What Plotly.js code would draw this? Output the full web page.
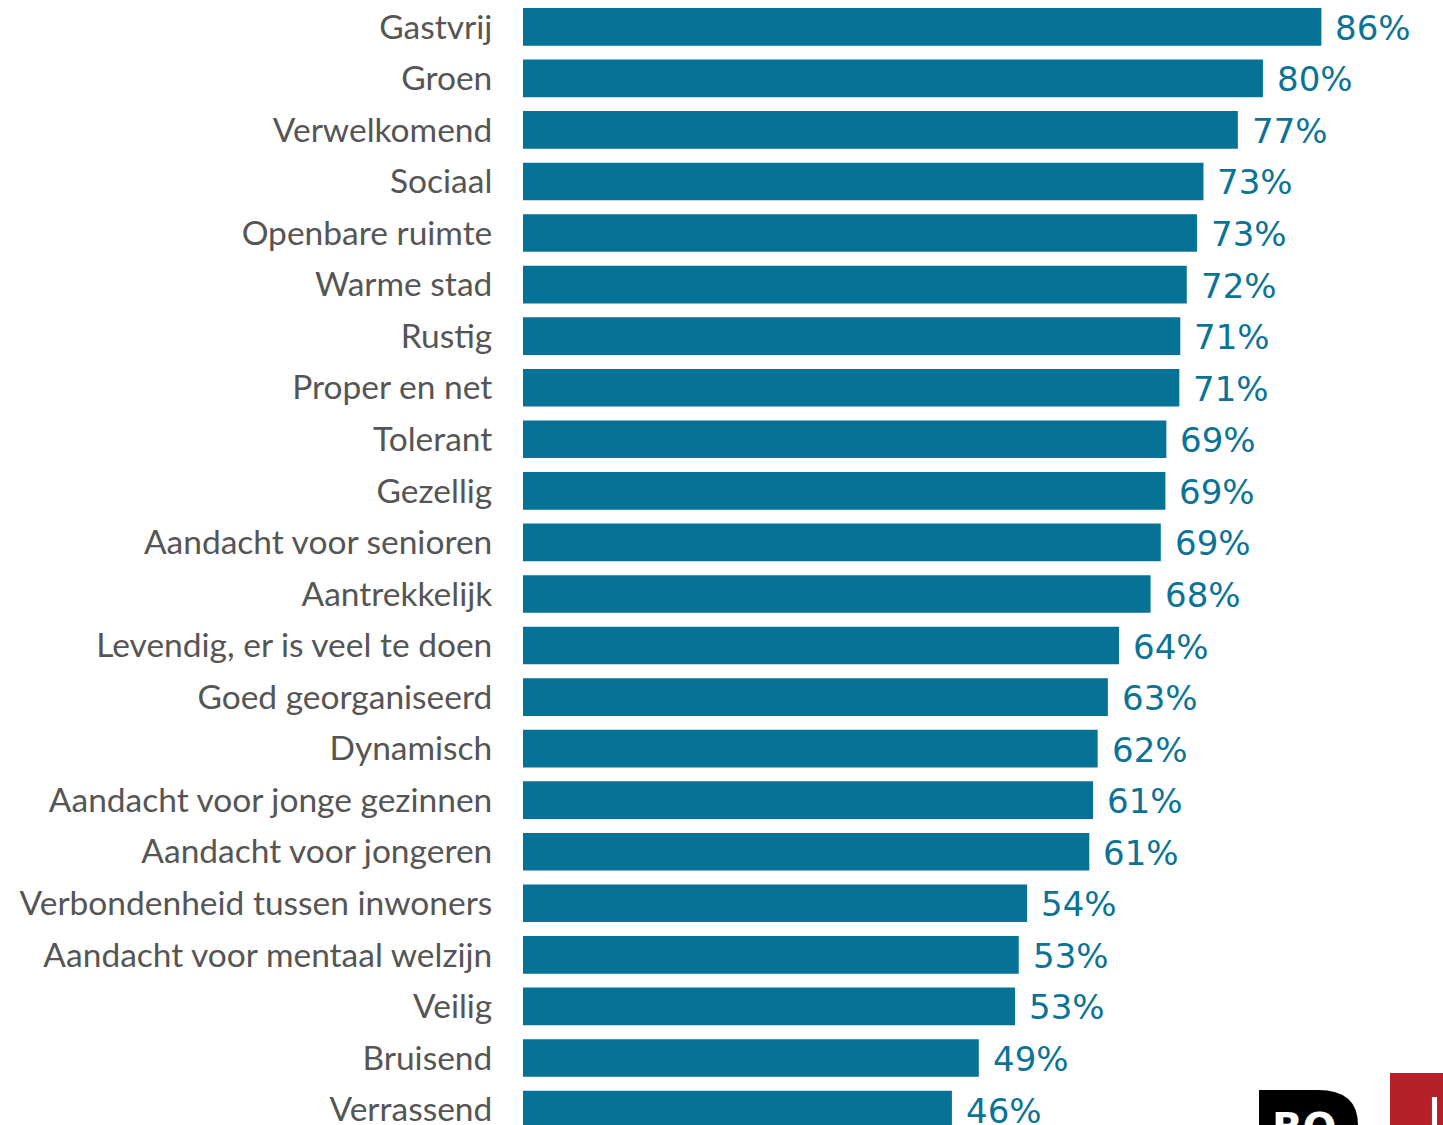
<!DOCTYPE html>
<html>
<head>
<meta charset="utf-8">
<script src="https://cdn.plot.ly/plotly-3.0.1.min.js"></script>
<style>html,body{margin:0;padding:0;background:#fff;}#chart{width:1443px;height:1125px;}</style>
</head>
<body>
<div id="chart"></div>
<script>
const categories = [
  "Gastvrij","Groen","Verwelkomend","Sociaal","Openbare ruimte","Warme stad","Rustig",
  "Proper en net","Tolerant","Gezellig","Aandacht voor senioren","Aantrekkelijk",
  "Levendig, er is veel te doen","Goed georganiseerd","Dynamisch","Aandacht voor jonge gezinnen",
  "Aandacht voor jongeren","Verbondenheid tussen inwoners","Aandacht voor mentaal welzijn",
  "Veilig","Bruisend","Verrassend"
];
const values = [86.0,79.7,77.0,73.3,72.6,71.5,70.8,70.7,69.3,69.2,68.7,67.6,64.2,63.0,61.9,61.4,61.0,54.3,53.4,53.0,49.1,46.2];
const valueLabels = values.map(v => Math.round(v) + "%");

const barColor = "#067396";
const trace = {
  type: "bar",
  orientation: "h",
  x: values,
  y: categories,
  marker: {color: barColor, line: {width: 0}},
  hoverinfo: "skip"
};

const annotations = values.map((v, i) => ({
  x: v, y: categories[i], xref: "x", yref: "y",
  text: valueLabels[i], showarrow: false,
  xanchor: "left", yanchor: "middle", xshift: 12, yshift: -1,
  font: {family: "DejaVu Sans", size: 34, color: "#0B7396"}
}));
annotations.push({
  xref: "paper", yref: "paper", x: 0.812, y: 0.0196, xanchor: "left", yanchor: "top",
  text: "<b>BO</b>", showarrow: false,
  font: {family: "DejaVu Sans", size: 40, color: "#ffffff"}
});

const layout = {
  width: 1443, height: 1125,
  margin: {l: 523, r: 0, t: 0, b: 0, pad: 0},
  paper_bgcolor: "#ffffff", plot_bgcolor: "#ffffff",
  bargap: 0.27,
  showlegend: false,
  xaxis: {range: [0, 99.1], visible: false, fixedrange: true},
  yaxis: {
    type: "category",
    range: [21.30, -0.52],
    showgrid: false, zeroline: false, showline: false,
    ticks: "outside", ticklen: 23, tickcolor: "rgba(0,0,0,0)",
    tickfont: {family: "Lato", size: 33.5, color: "#555555"},
    fixedrange: true
  },
  annotations: annotations,
  shapes: [
    {type: "path", xref: "paper", yref: "paper",
     path: "M 0.8 0 L 0.8 0.0311 L 0.8641 0.0311 Q 0.9076 0.0311 0.9076 0 Z",
     fillcolor: "#000000", line: {width: 0}},
    {type: "rect", xref: "paper", yref: "paper", x0: 0.9424, x1: 1.0, y0: 0, y1: 0.0462,
     fillcolor: "#B5202A", line: {width: 0}},
    {type: "rect", xref: "paper", yref: "paper", x0: 0.9880, x1: 0.9935, y0: 0, y1: 0.0249,
     fillcolor: "#ffffff", line: {width: 0}}
  ]
};

Plotly.newPlot("chart", [trace], layout, {displayModeBar: false, staticPlot: true});
</script>
</body>
</html>
